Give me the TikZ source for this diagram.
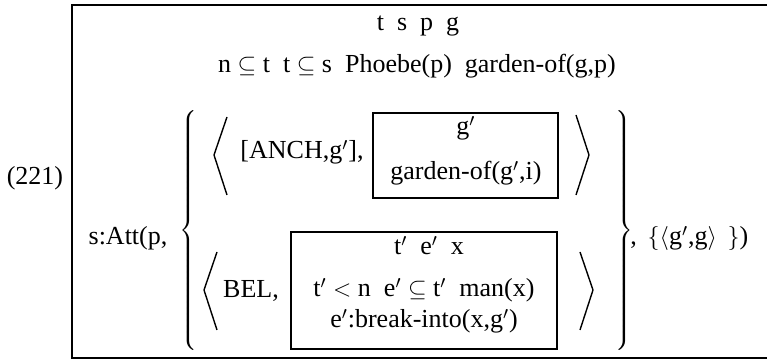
\documentclass[tikz,border=0pt]{standalone}
\usepackage{fontspec}
\setmainfont{Liberation Serif}
\usepackage{tikz}
\usetikzlibrary{positioning}

\newcommand{\pr}{$'$}
\newcommand{\sub}{$\subseteq$}
\newcommand{\bigbrace}[2]{$\delimiterfactor=1000\delimitershortfall=0pt
  \left#1\vrule height 56pt depth 56pt width 0pt\right#2$}

\begin{document}
\begin{tikzpicture}[
  x=0.5pt, y=-0.5pt,
  txt/.style={anchor=base, inner sep=0pt, font=\fontsize{13}{15.6}\selectfont},
  drsbox/.style={draw, line width=1pt},
  ang/.style={line width=0.7pt},
  brc/.style={inner sep=0pt, font=\fontsize{13}{15.6}\selectfont},
]
  \useasboundingbox (0,0) rectangle (767,362);

  % Outer box
  \draw[line width=1pt] (767,5) -- (72,5) -- (72,358) -- (767,358);

  % Main universe and conditions
  \node[txt] (refs) at (418,31) {t\enspace s\enspace p\enspace g};
  \node[txt] (conds) at (417,73) {n \sub\ t\enspace t \sub\ s\enspace Phoebe(p)\enspace garden-of(g,p)};
  \node[txt] (num) at (35,185) {(221)};
  \node[txt] (att) at (128,245) {s:Att(p,};

  % Braces
  \node[brc] (lbrace) at (190,231) {\bigbrace\{.};
  \node[brc] (rbrace) at (623,231) {\bigbrace.\}};
  \node[txt, anchor=base west] (tail) at (630,245) {,\ \,$\{\langle$g\pr,g$\rangle\;\,\}$)};

  % Anchor pair
  \coordinate (a1) at (227,117);
  \coordinate (a2) at (214,155);
  \coordinate (a3) at (227,195);
  \draw[ang] (a1) -- (a2) -- (a3);
  \node[txt] (anch) at (302,159) {[ANCH,g\pr],};
  \node[drsbox, minimum width=92.5pt, minimum height=42.5pt] (upbox) at (465.5,155.5) {};
  \node[txt] (gp) at (466,135) {g\pr};
  \node[txt] (gof) at (466,180) {garden-of(g\pr,i)};
  \coordinate (a4) at (576,115);
  \coordinate (a5) at (589,155);
  \coordinate (a6) at (576,195);
  \draw[ang] (a4) -- (a5) -- (a6);

  % Belief pair
  \coordinate (b1) at (217,252);
  \coordinate (b2) at (204,290);
  \coordinate (b3) at (217,330);
  \draw[ang] (b1) -- (b2) -- (b3);
  \node[txt] (bel) at (251,298) {BEL,};
  \node[drsbox, minimum width=133pt, minimum height=58.5pt] (lobox) at (424,290.5) {};
  \node[txt] (brefs) at (429,255) {t\pr\enspace e\pr\enspace x};
  \node[txt] (bcond) at (424,297) {t\pr\ $<$ n\enspace e\pr\ \sub\ t\pr\enspace man(x)};
  \node[txt] (bbreak) at (424,328) {e\pr:break-into(x,g\pr)};
  \coordinate (b4) at (580,252);
  \coordinate (b5) at (593,290);
  \coordinate (b6) at (580,330);
  \draw[ang] (b4) -- (b5) -- (b6);
\end{tikzpicture}
\end{document}
